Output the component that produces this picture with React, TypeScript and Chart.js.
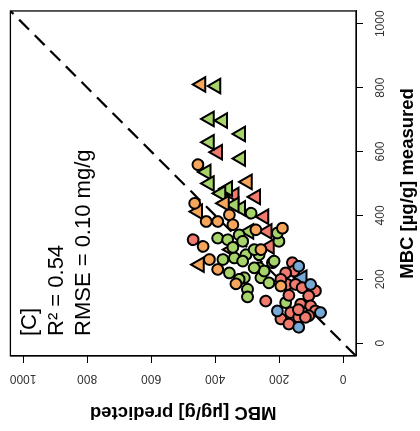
import React, { useEffect, useRef } from "react";
import { Chart, registerables } from "chart.js";

Chart.register(...registerables);

// Axis ticks and limits (R-style 4% extension around 0..1000)
const tickValues = [0, 200, 400, 600, 800, 1000];
const tickLabels = ["0", "200", "400", "600", "800", "1000"];
const axisLimits = [-40, 1040];
const oneToOne = [-40, 1040];

const xTitle = "MBC [µg/g] measured";
const yTitle = "MBC [µg/g] predicted";
const annotationLines = ["[C]", "R\u00B2 = 0.54", "RMSE = 0.10 mg/g"];

// Circles (measured, predicted)
const orangeCircleMeasured = [559, 438, 381, 381, 402, 371, 303, 262, 231, 355, 360, 179, 293, 186];
const orangeCirclePredicted = [454, 464, 428, 392, 356, 345, 438, 418, 392, 273, 190, 195, 257, 335];

const greenCircleMeasured = [407, 329, 324, 339, 277, 277, 252, 205, 236, 205, 169, 319, 189, 127, 262, 220, 267, 257, 145, 200, 293, 319, 257, 226, 236, 345, 300];
const greenCirclePredicted = [288, 392, 361, 325, 304, 263, 221, 309, 263, 257, 299, 201, 232, 180, 376, 356, 340, 314, 299, 325, 278, 314, 216, 247, 278, 206, 345];

const redCircleMeasured = [324, 252, 184, 184, 174, 164, 148, 132, 122, 117, 96, 101, 81, 86, 76, 60, 81, 226, 220, 200, 150, 105];
const redCirclePredicted = [469, 159, 175, 149, 128, 87, 108, 242, 133, 102, 164, 87, 139, 108, 195, 170, 118, 154, 180, 195, 170, 140];

const blueCircleMeasured = [241, 101, 96, 50, 184];
const blueCirclePredicted = [139, 206, 71, 139, 102];

// Triangles (measured, predicted)
const orangeTriangleMeasured = [810, 505, 438, 412, 246, 293];
const orangeTrianglePredicted = [444, 299, 371, 454, 449, 350];

const greenTriangleMeasured = [805, 702, 697, 655, 629, 578, 536, 500, 484, 469, 422, 350, 433];
const greenTrianglePredicted = [397, 418, 376, 320, 418, 320, 428, 418, 361, 382, 320, 294, 340];

const redTriangleMeasured = [598, 464, 458, 396, 350, 303];
const redTrianglePredicted = [392, 340, 273, 247, 237, 230];

const blueTriangleMeasured = [205];
const blueTrianglePredicted = [128];

const ORANGE = "#F6A65A";
const GREEN = "#A6D46A";
const RED = "#F07A6E";
const BLUE = "#76A9D6";
const FONT = "'Liberation Sans', Arial, Helvetica, sans-serif";

const zip = (xs: number[], ys: number[]) => xs.map((x, i) => ({ x, y: ys[i] }));

const pointSet = (
  label: string,
  xs: number[],
  ys: number[],
  color: string,
  shape: "circle" | "triangle"
) => ({
  type: "scatter" as const,
  label,
  data: zip(xs, ys),
  backgroundColor: color,
  borderColor: "#000",
  borderWidth: 2,
  pointStyle: shape,
  pointRadius: shape === "circle" ? 5.4 : 8.4,
  order: 1,
});

const boxPlugin = {
  id: "rbox",
  afterDraw(chart: any) {
    const { ctx, chartArea } = chart;
    ctx.save();
    ctx.strokeStyle = "#000";
    ctx.lineWidth = 1.3;
    ctx.strokeRect(chartArea.left, chartArea.top, chartArea.right - chartArea.left, chartArea.bottom - chartArea.top);
    ctx.restore();
  },
};

const annotationPlugin = {
  id: "rtext",
  afterDraw(chart: any) {
    const { ctx, chartArea } = chart;
    ctx.save();
    ctx.fillStyle = "#000";
    ctx.font = `22px ${FONT}`;
    ctx.textAlign = "left";
    ctx.textBaseline = "middle";
    annotationLines.forEach((t, i) => {
      ctx.fillText(t, chartArea.left + 20, chartArea.top + 20 + i * 27);
    });
    ctx.restore();
  },
};

export default function App() {
  const ref = useRef<HTMLCanvasElement | null>(null);

  useEffect(() => {
    if (!ref.current) return;
    const axisCommon = (title: string) => ({
      type: "linear" as const,
      min: axisLimits[0],
      max: axisLimits[1],
      afterBuildTicks: (s: any) => {
        s.ticks = tickValues.map((v) => ({ value: v }));
      },
      grid: { drawOnChartArea: false, drawTicks: true, tickLength: 7, color: "#000", lineWidth: 1 },
      border: { display: true, color: "#000", width: 1 },
      title: {
        display: true,
        text: title,
        color: "#000",
        font: { family: FONT, size: 18.5, weight: "bold" as const },
      },
    });

    const chart = new Chart(ref.current, {
      type: "scatter",
      data: {
        datasets: [
          {
            type: "line",
            label: "1:1",
            data: zip(oneToOne, oneToOne),
            borderColor: "#000",
            borderWidth: 2.2,
            borderDash: [14, 8],
            pointRadius: 0,
            fill: false,
            order: 10,
          } as any,
          pointSet("blue circles", blueCircleMeasured, blueCirclePredicted, BLUE, "circle"),
          pointSet("orange circles", orangeCircleMeasured, orangeCirclePredicted, ORANGE, "circle"),
          pointSet("red circles", redCircleMeasured, redCirclePredicted, RED, "circle"),
          pointSet("green circles", greenCircleMeasured, greenCirclePredicted, GREEN, "circle"),
          pointSet("orange triangles", orangeTriangleMeasured, orangeTrianglePredicted, ORANGE, "triangle"),
          pointSet("green triangles", greenTriangleMeasured, greenTrianglePredicted, GREEN, "triangle"),
          pointSet("red triangles", redTriangleMeasured, redTrianglePredicted, RED, "triangle"),
          pointSet("blue triangles", blueTriangleMeasured, blueTrianglePredicted, BLUE, "triangle"),
        ],
      },
      options: {
        animation: false,
        responsive: false,
        maintainAspectRatio: false,
        layout: { padding: { top: 8, right: 8, left: 0, bottom: 0 } },
        plugins: { legend: { display: false }, tooltip: { enabled: false } },
        scales: {
          x: {
            ...axisCommon(xTitle),
            position: "bottom",
            afterFit: (s: any) => {
              s.height = 64;
            },
            ticks: {
              color: "#333",
              font: { family: FONT, size: 12 },
              padding: 10,
              minRotation: 0,
              maxRotation: 0,
              autoSkip: false,
              callback: (_v: any, i: number) => tickLabels[i],
            },
            title: {
              ...axisCommon(xTitle).title,
              padding: { top: 0, bottom: 1 },
            },
          },
          y: {
            ...axisCommon(yTitle),
            position: "left",
            afterFit: (s: any) => {
              s.width = 75;
            },
            ticks: {
              color: "#333",
              font: { family: FONT, size: 12 },
              padding: 2,
              minRotation: 90,
              maxRotation: 90,
              crossAlign: "center",
              autoSkip: false,
              callback: (_v: any, i: number) => tickLabels[i],
            },
            title: {
              ...axisCommon(yTitle).title,
              padding: { top: 8, bottom: 0 },
            },
          },
        },
      } as any,
      plugins: [boxPlugin, annotationPlugin],
    });
    return () => chart.destroy();
  }, []);

  return (
    <div
      style={{
        position: "absolute",
        left: 0,
        top: 0,
        width: 420,
        height: 431,
        overflow: "hidden",
        background: "#fff",
      }}
    >
      <div
        style={{
          position: "absolute",
          left: 0,
          top: 0,
          width: 431,
          height: 420,
          transformOrigin: "0 0",
          transform: "translate(0px, 431px) rotate(-90deg)",
        }}
      >
        <canvas ref={ref} width={431} height={420} style={{ display: "block" }} />
      </div>
    </div>
  );
}
